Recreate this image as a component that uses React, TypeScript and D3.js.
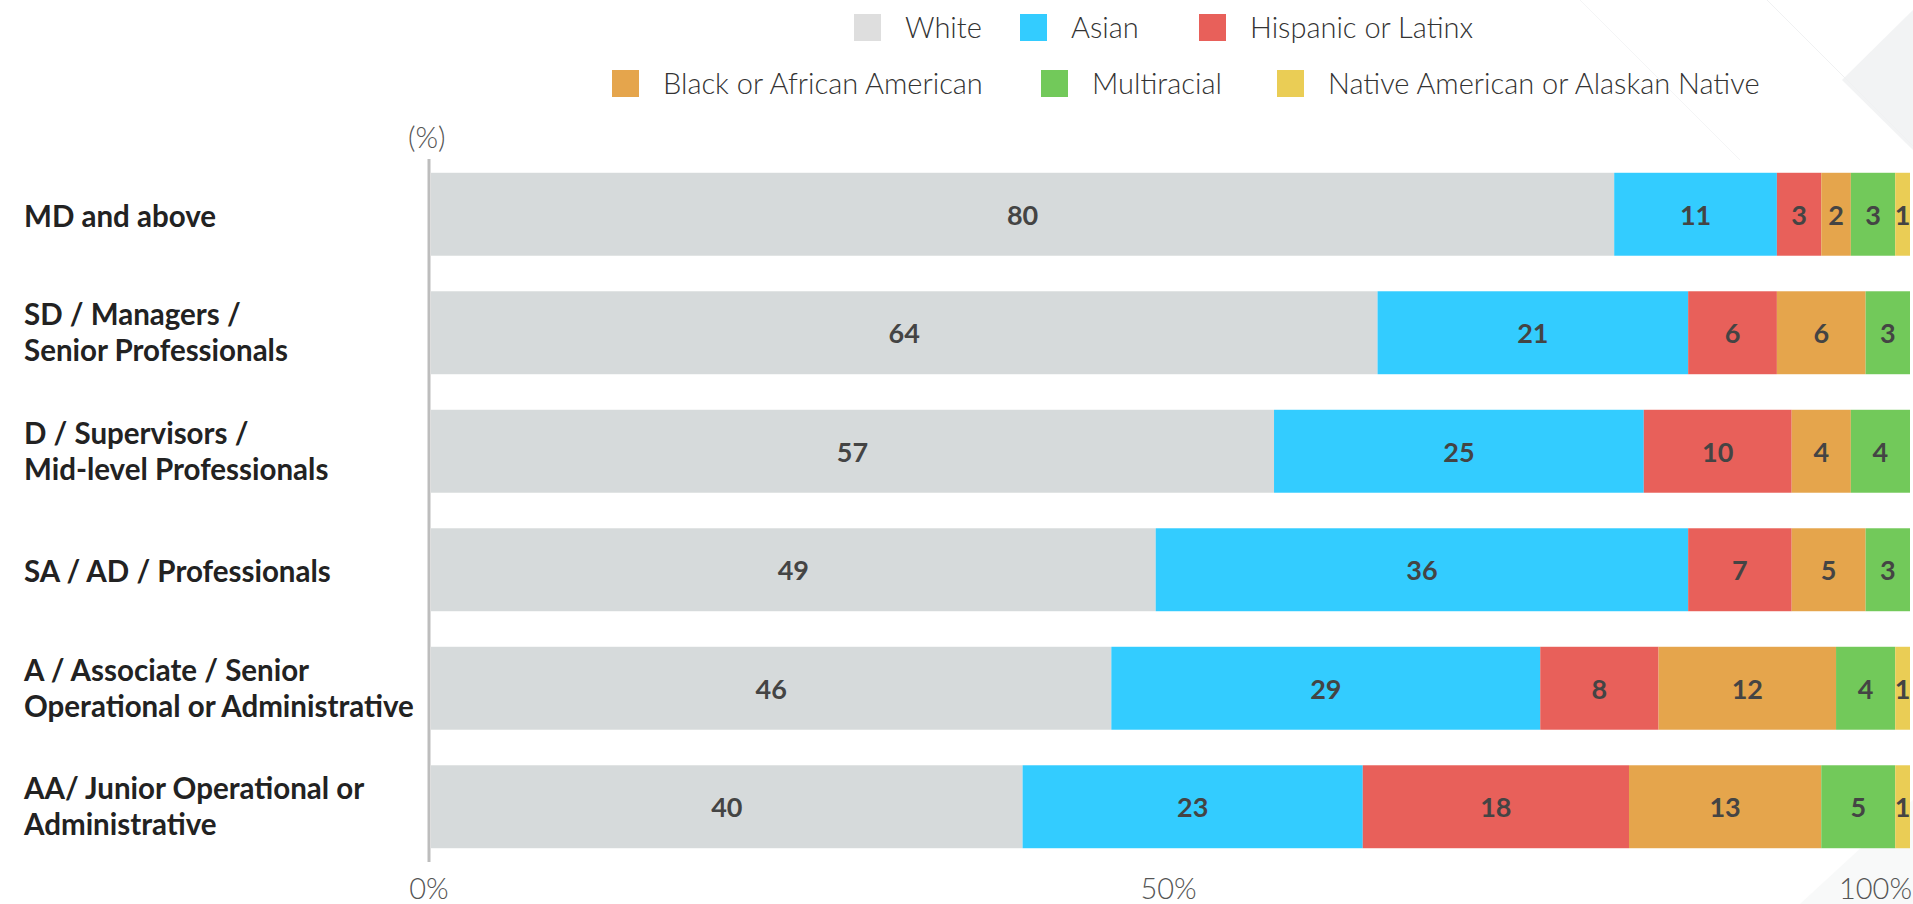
import { useEffect, useMemo } from 'react';
import * as d3 from 'd3';

const CATEGORIES: string[][] = [
  ['MD and above'],
  ['SD / Managers /', 'Senior Professionals'],
  ['D / Supervisors /', 'Mid-level Professionals'],
  ['SA / AD / Professionals'],
  ['A / Associate / Senior', 'Operational or Administrative'],
  ['AA/ Junior Operational or', 'Administrative'],
];

const WHITE = [80, 64, 57, 49, 46, 40];
const ASIAN = [11, 21, 25, 36, 29, 23];
const HISPANIC = [3, 6, 10, 7, 8, 18];
const BLACK = [2, 6, 4, 5, 12, 13];
const MULTIRACIAL = [3, 3, 4, 3, 4, 5];
const NATIVE = [1, 0, 0, 0, 1, 1];

const SERIES = [
  { key: 'white', label: 'White', values: WHITE, color: '#D6DADB', swatch: '#DEDEDE' },
  { key: 'asian', label: 'Asian', values: ASIAN, color: '#33CCFF', swatch: '#33CCFF' },
  { key: 'hispanic', label: 'Hispanic or Latinx', values: HISPANIC, color: '#E8605A', swatch: '#E8605A' },
  { key: 'black', label: 'Black or African American', values: BLACK, color: '#E5A54C', swatch: '#E5A54C' },
  { key: 'multi', label: 'Multiracial', values: MULTIRACIAL, color: '#72C95A', swatch: '#72C95A' },
  { key: 'native', label: 'Native American or Alaskan Native', values: NATIVE, color: '#EACD55', swatch: '#EACD55' },
];

const X_TICKS = [0, 50, 100];

// legend layout: two rows, x of each swatch
const LEGEND_ROWS = [
  { y: 14, items: [{ s: 0, x: 854 }, { s: 1, x: 1020 }, { s: 2, x: 1199 }] },
  { y: 70, items: [{ s: 3, x: 612 }, { s: 4, x: 1041 }, { s: 5, x: 1277 }] },
];

const W = 1913;
const H = 904;
const FONT = 'Lato, "Open Sans", "Noto Sans", sans-serif';

export default function App() {
  useEffect(() => {
    document.body.style.margin = '0';
  }, []);

  const x = useMemo(() => d3.scaleLinear().domain([0, 100]).range([431, 1910]), []);
  const y = useMemo(
    () => d3.scaleBand<number>().domain(d3.range(CATEGORIES.length)).range([155, 866]).paddingInner(0.3).paddingOuter(0.15),
    []
  );

  const rows = CATEGORIES.map((_, i) => ({ i, ...Object.fromEntries(SERIES.map((s) => [s.key, s.values[i]])) }));
  const stacked = d3.stack<any>().keys(SERIES.map((s) => s.key))(rows);

  const bw = y.bandwidth();

  return (
    <svg width={W} height={H} style={{ position: 'absolute', left: 0, top: 0, display: 'block', background: '#fff' }}>
      {/* faint background shapes */}
      <g>
        <path d="M1842,80 L1913,10 L1913,150 Z" fill="#F2F3F4" />
        <path d="M1767,0 L1913,146" stroke="#F0F1F2" fill="none" />
        <path d="M1580,0 L1740,160" stroke="#F4F5F6" fill="none" />
        <path d="M1800,904 L1913,800 L1913,904 Z" fill="#F8F9F9" />
      </g>

      {/* legend */}
      {LEGEND_ROWS.map((row, ri) =>
        row.items.map((it) => {
          const s = SERIES[it.s];
          return (
            <g key={`${ri}-${s.key}`}>
              <rect x={it.x} y={row.y} width={27} height={27} fill={s.swatch} />
              <text
                x={it.x + 51}
                y={row.y + 13.5}
                dy="0.35em"
                fontFamily={FONT}
                fontWeight={300}
                fontSize={29}
                fill="#333"
              >
                {s.label}
              </text>
            </g>
          );
        })
      )}

      <text x={408} y={138} dy="0.35em" fontFamily={FONT} fontWeight={300} fontSize={29} fill="#555">
        (%)
      </text>

      {/* bars */}
      {stacked.map((layer, si) => (
        <g key={layer.key}>
          {layer.map((d, i) => {
            const v = d[1] - d[0];
            if (v <= 0) return null;
            const x0 = x(d[0]);
            const x1 = x(d[1]);
            const yy = y(i)!;
            return (
              <g key={i}>
                <rect x={x0} y={yy} width={x1 - x0} height={bw} fill={SERIES[si].color} />
                <text
                  x={(x0 + x1) / 2}
                  y={yy + bw / 2}
                  dy="0.38em"
                  textAnchor="middle"
                  fontFamily={FONT}
                  fontWeight={700}
                  fontSize={27}
                  fill="#444"
                >
                  {v}
                </text>
              </g>
            );
          })}
        </g>
      ))}

      {/* axis line */}
      <line x1={429} x2={429} y1={159} y2={862} stroke="#BDBDBD" strokeWidth={3} />

      {/* category labels */}
      {CATEGORIES.map((lines, i) => {
        const cy = y(i)! + bw / 2;
        const lh = 36;
        const top = cy - ((lines.length - 1) * lh) / 2;
        return (
          <text key={i} fontFamily={FONT} fontWeight={700} fontSize={29.5} fill="#222">
            {lines.map((ln, li) => (
              <tspan key={li} x={24} y={top + li * lh} dy={lines.length === 1 ? '0.42em' : '0.36em'}>
                {ln}
              </tspan>
            ))}
          </text>
        );
      })}

      {/* x tick labels */}
      {X_TICKS.map((t, i) => (
        <text
          key={t}
          x={i === X_TICKS.length - 1 ? x(t) + 2 : x(t) - 2}
          y={889}
          dy="0.35em"
          textAnchor={i === X_TICKS.length - 1 ? 'end' : 'middle'}
          fontFamily={FONT}
          fontWeight={300}
          fontSize={29}
          fill="#555"
        >
          {`${t}%`}
        </text>
      ))}
    </svg>
  );
}
